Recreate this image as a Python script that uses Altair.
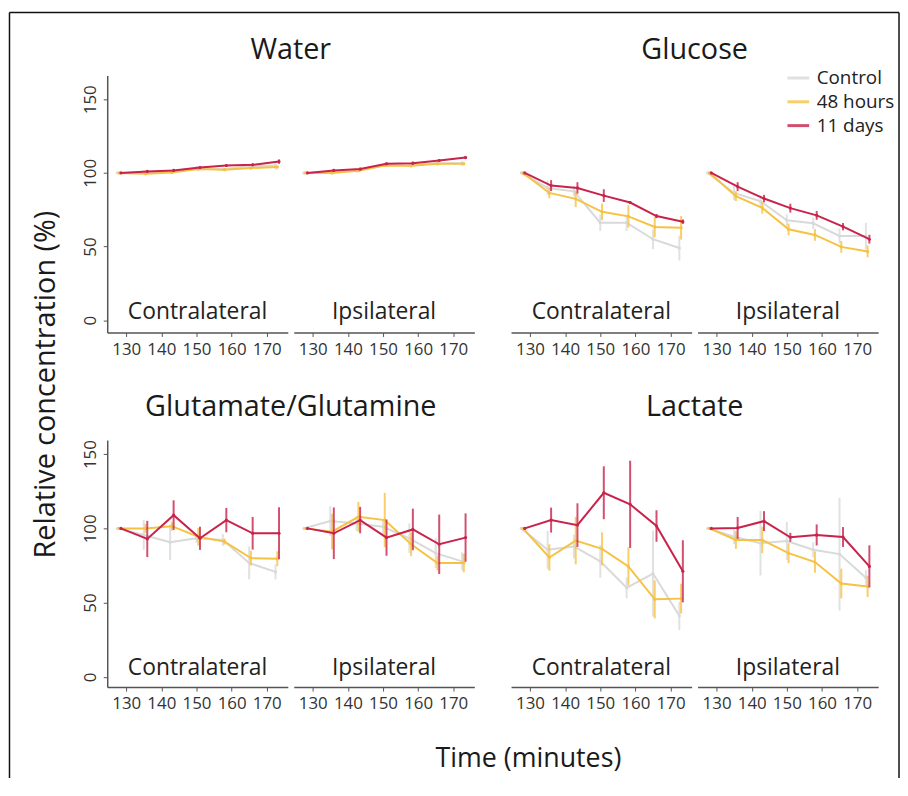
import altair as alt
import pandas as pd

FONT = "Open Sans"
SERIES = ["Control", "48 hours", "11 days"]
COLORS = ["#d9d9d9", "#f6c243", "#c8234b"]
X_TICKS = [130, 140, 150, 160, 170]
Y_TICKS = [0, 50, 100, 150]

# sampling times (minutes) per group
T_CONTROL = [127.5, 135, 142.5, 150, 157.5, 165, 172.5]
T_48H = [128, 135.5, 143, 150.5, 158, 165.5, 173]
T_11D = [128.5, 136, 143.5, 151, 158.5, 166, 173.5]
TIMES = [T_CONTROL, T_48H, T_11D]

# ---- Water ----
WATER_C_CTRL = [100, 100.5, 101, 103.5, 102.5, 104.5, 105]
WATER_C_CTRL_SE = [0, 1, 1.5, 1, 1, 1.5, 3]
WATER_C_48H = [100, 99.5, 100.3, 102.6, 102.2, 103.3, 104]
WATER_C_48H_SE = [0, 1, 1, 1, 1, 1, 1]
WATER_C_11D = [100, 101, 101.7, 103.7, 105, 105.5, 107.7]
WATER_C_11D_SE = [0, 1, 1, 1, 1, 1, 1.5]
WATER_I_CTRL = [100, 100.5, 101.5, 105, 105, 106.5, 106.5]
WATER_I_CTRL_SE = [0, 1, 1, 1, 1, 1, 1.5]
WATER_I_48H = [100, 100, 101.5, 105, 104.8, 106.2, 106.2]
WATER_I_48H_SE = [0, 1, 1, 1, 1, 1, 1]
WATER_I_11D = [100, 101.7, 102.6, 106.2, 106.6, 108.4, 110.4]
WATER_I_11D_SE = [0, 1, 1, 1, 1, 1, 1]

# ---- Glucose ----
GLC_C_CTRL = [100, 89.8, 87.5, 66.2, 66.2, 55, 49]
GLC_C_CTRL_SE = [0, 5, 3.4, 5.6, 5.6, 6.7, 8.4]
GLC_C_48H = [100, 86.4, 82.4, 73.6, 70.5, 63.3, 62.8]
GLC_C_48H_SE = [0, 3.6, 5.6, 5.6, 7.6, 7, 8]
GLC_C_11D = [100, 91.4, 89.8, 84.6, 79.9, 70.7, 66.9]
GLC_C_11D_SE = [0, 3.7, 3.9, 4.3, 1, 1.4, 1.5]
GLC_I_CTRL = [100, 86.4, 80.8, 67.8, 65.8, 57.2, 57.2]
GLC_I_CTRL_SE = [0, 5, 4, 4, 4, 5, 9]
GLC_I_48H = [100, 84.2, 76.3, 61.7, 57.9, 49.8, 46.7]
GLC_I_48H_SE = [0, 3.4, 4, 4, 4, 4, 4]
GLC_I_11D = [100, 90.7, 82.6, 76.1, 71.2, 63.5, 55]
GLC_I_11D_SE = [0, 3, 2.5, 3, 3, 2.5, 3]

# ---- Glutamate/Glutamine ----
GLX_C_CTRL = [100, 95.6, 90.7, 93.3, 92.2, 76.7, 70.7]
GLX_C_CTRL_SE = [0, 10, 12, 3, 4, 11, 5]
GLX_C_48H = [100, 100, 101.5, 94.4, 91.1, 80, 79.6]
GLX_C_48H_SE = [0, 3, 3, 6, 2, 5, 5]
GLX_C_11D = [100, 92.9, 108.9, 93.3, 105.6, 96.7, 96.7]
GLX_C_11D_SE = [0, 12.2, 10, 7.8, 8.2, 11, 17.5]
GLX_I_CTRL = [100, 104.9, 103.3, 101.1, 93.3, 83.3, 77.8]
GLX_I_CTRL_SE = [0, 10, 5, 5, 10, 10, 6]
GLX_I_48H = [100, 97.8, 107.8, 105.6, 89.3, 76.7, 76.7]
GLX_I_48H_SE = [0, 12, 10, 18.3, 8, 5, 6.3]
GLX_I_11D = [100, 96.7, 105.6, 93.8, 99.3, 89.3, 93.8]
GLX_I_11D_SE = [0, 17.4, 8.9, 12.2, 14, 20, 16.3]

# ---- Lactate ----
LAC_C_CTRL = [100, 85.6, 87.8, 77.8, 60, 69.6, 41.1]
LAC_C_CTRL_SE = [0, 12.8, 8, 11, 7, 29, 9.5]
LAC_C_48H = [100, 80.4, 91.8, 86.2, 74.4, 52.2, 52.7]
LAC_C_48H_SE = [0, 8.9, 16, 11.1, 12.8, 12.8, 10]
LAC_C_11D = [100, 105.6, 102.2, 124, 116.2, 101.6, 71.1]
LAC_C_11D_SE = [0, 8.4, 14.7, 17.8, 29.4, 10.6, 20.9]
LAC_I_CTRL = [100, 94.4, 90, 91.5, 85.6, 82.7, 66.7]
LAC_I_CTRL_SE = [0, 5, 21.7, 12.8, 5, 38, 5]
LAC_I_48H = [100, 92.2, 92.2, 83.3, 77.3, 62.9, 60.9]
LAC_I_48H_SE = [0, 6, 8.9, 6.7, 7.2, 10, 7.2]
LAC_I_11D = [100, 100.3, 104.9, 94, 95.6, 94.2, 74.4]
LAC_I_11D_SE = [0, 7.4, 6.7, 3, 7.1, 6.7, 14.2]

X_DOMAIN = [124.6, 176.0]
Y_DOMAIN_TOP = [-8.3, 166.1]
Y_DOMAIN_BOTTOM = [-6.9, 159.5]
PANEL_W = 182
H_TOP = 259
H_BOTTOM = 249


def long_df(means, errs):
    rows = []
    for s, times, m, e in zip(SERIES, TIMES, means, errs):
        for t, v, d in zip(times, m, e):
            rows.append({"series": s, "time": t, "value": v, "lo": v - d, "hi": v + d})
    return pd.DataFrame(rows)


LEGEND = alt.Legend(
    orient="none", legendX=684, legendY=-10, title=None, direction="vertical",
    symbolType="stroke", symbolSize=480, symbolStrokeWidth=3,
    labelFontSize=19, labelFont=FONT, labelColor="#222", labelOffset=6, rowPadding=1,
)
COLOR = alt.Color("series:N", scale=alt.Scale(domain=SERIES, range=COLORS), legend=LEGEND)


def panel(df, side, ydom, height, first_col, top_row, title=None, frame=False, xtitle=False):
    if xtitle:
        x_axis = alt.Axis(values=X_TICKS, title="Time (minutes)", titleX=424, titleY=72,
                          titleAlign="center", titleBaseline="middle", titleFontSize=27,
                          titleFontWeight="normal", titleColor="#1a1a1a", titleFont=FONT)
    else:
        x_axis = alt.Axis(values=X_TICKS, title=None)
    if first_col:
        if top_row:
            y_axis = alt.Axis(values=Y_TICKS, labelAngle=270, labelAlign="center",
                              labelBaseline="bottom", labelPadding=4, labelFontSize=17,
                              title="Relative concentration (%)", titleAngle=270,
                              titleX=-62, titleY=311, titleAlign="center",
                              titleBaseline="middle", titleFontSize=29,
                              titleFontWeight="normal", titleColor="#1a1a1a", titleFont=FONT)
        else:
            y_axis = alt.Axis(values=Y_TICKS, labelAngle=270, labelAlign="center",
                              labelBaseline="bottom", labelPadding=4, labelFontSize=17,
                              title=None)
    else:
        y_axis = None
    xs = alt.Scale(domain=X_DOMAIN, nice=False, zero=False)
    ys = alt.Scale(domain=ydom, nice=False, zero=False)
    x = alt.X("time:Q", scale=xs, axis=x_axis)
    base = alt.Chart(df)
    layers = []
    for s in SERIES:
        f = base.transform_filter(alt.datum.series == s)
        layers.append(f.mark_rule(strokeWidth=2, opacity=0.8).encode(
            x=x, y=alt.Y("lo:Q", scale=ys, axis=y_axis), y2="hi:Q", color=COLOR))
        layers.append(f.mark_line(strokeWidth=2).encode(
            x=x, y=alt.Y("value:Q", scale=ys, axis=y_axis), color=COLOR))
        layers.append(f.mark_circle(size=10, opacity=1).encode(
            x=x, y=alt.Y("value:Q", scale=ys, axis=y_axis), color=COLOR))
    ybase = 245 if top_row else 236.5
    layers.append(alt.Chart(pd.DataFrame({"t": [side]})).mark_text(
        font=FONT, fontSize=23, color="#222", baseline="alphabetic", align="center"
    ).encode(text="t:N", x=alt.value(PANEL_W / 2), y=alt.value(ybase)))
    if title:
        ty = -17 if top_row else -24
        layers.append(alt.Chart(pd.DataFrame({"t": [title]})).mark_text(
            font=FONT, fontSize=29, color="#1a1a1a", baseline="alphabetic", align="center"
        ).encode(text="t:N", x=alt.value(PANEL_W + 3), y=alt.value(ty)))
    if frame:
        fd = pd.DataFrame({"k": [0]})
        fc = alt.Chart(fd)
        layers.append(fc.mark_rule(color="#111", strokeWidth=1.5).encode(
            x=alt.value(-98.5), y=alt.value(-63.5), y2=alt.value(708)))
        layers.append(fc.mark_rule(color="#111", strokeWidth=1.5).encode(
            x=alt.value(-98.5), x2=alt.value(798), y=alt.value(-63.5)))
        layers.append(fc.mark_rule(color="#111", strokeWidth=1.5).encode(
            x=alt.value(798), y=alt.value(-63.5), y2=alt.value(708)))
    return alt.layer(*layers).properties(width=PANEL_W, height=height)


def spacer(h):
    return alt.Chart(pd.DataFrame({"k": [0]})).mark_point(opacity=0).encode(
        x=alt.X("k:Q", axis=None), y=alt.Y("k:Q", axis=None)
    ).properties(width=24.6, height=h)


cells = [
    panel(long_df([WATER_C_CTRL, WATER_C_48H, WATER_C_11D], [WATER_C_CTRL_SE, WATER_C_48H_SE, WATER_C_11D_SE]),
          "Contralateral", Y_DOMAIN_TOP, H_TOP, True, True, title="Water", frame=True),
    panel(long_df([WATER_I_CTRL, WATER_I_48H, WATER_I_11D], [WATER_I_CTRL_SE, WATER_I_48H_SE, WATER_I_11D_SE]),
          "Ipsilateral", Y_DOMAIN_TOP, H_TOP, False, True),
    spacer(H_TOP),
    panel(long_df([GLC_C_CTRL, GLC_C_48H, GLC_C_11D], [GLC_C_CTRL_SE, GLC_C_48H_SE, GLC_C_11D_SE]),
          "Contralateral", Y_DOMAIN_TOP, H_TOP, False, True, title="Glucose"),
    panel(long_df([GLC_I_CTRL, GLC_I_48H, GLC_I_11D], [GLC_I_CTRL_SE, GLC_I_48H_SE, GLC_I_11D_SE]),
          "Ipsilateral", Y_DOMAIN_TOP, H_TOP, False, True),
    panel(long_df([GLX_C_CTRL, GLX_C_48H, GLX_C_11D], [GLX_C_CTRL_SE, GLX_C_48H_SE, GLX_C_11D_SE]),
          "Contralateral", Y_DOMAIN_BOTTOM, H_BOTTOM, True, False, title="Glutamate/Glutamine", xtitle=True),
    panel(long_df([GLX_I_CTRL, GLX_I_48H, GLX_I_11D], [GLX_I_CTRL_SE, GLX_I_48H_SE, GLX_I_11D_SE]),
          "Ipsilateral", Y_DOMAIN_BOTTOM, H_BOTTOM, False, False),
    spacer(H_BOTTOM),
    panel(long_df([LAC_C_CTRL, LAC_C_48H, LAC_C_11D], [LAC_C_CTRL_SE, LAC_C_48H_SE, LAC_C_11D_SE]),
          "Contralateral", Y_DOMAIN_BOTTOM, H_BOTTOM, False, False, title="Lactate"),
    panel(long_df([LAC_I_CTRL, LAC_I_48H, LAC_I_11D], [LAC_I_CTRL_SE, LAC_I_48H_SE, LAC_I_11D_SE]),
          "Ipsilateral", Y_DOMAIN_BOTTOM, H_BOTTOM, False, False),
]

chart = alt.concat(
    *cells, columns=5, spacing={"row": 108.4, "column": 6}, bounds="flush", align="each"
).properties(
    padding=0, background="white"
).configure_view(
    stroke=None
).configure_axis(
    grid=False, labelFont=FONT, labelFontSize=17, labelColor="#333",
    domainColor="#555", domainWidth=1.5, tickColor="#555", tickSize=4, tickWidth=1,
    labelPadding=5, titleFont=FONT,
).configure_legend(
    labelFont=FONT
)

chart.save("out.html", embed_options={"renderer": "svg", "actions": False})
